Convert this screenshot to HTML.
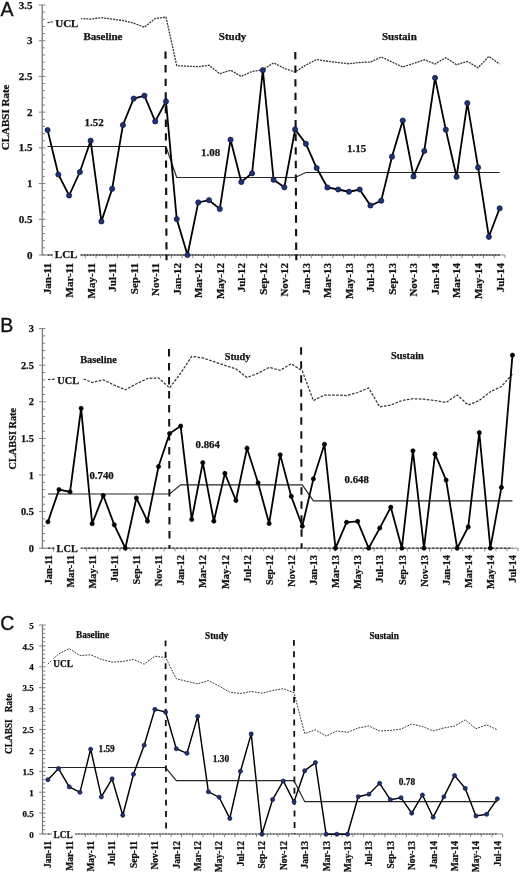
<!DOCTYPE html>
<html><head><meta charset="utf-8"><title>CLABSI control charts</title>
<style>
html,body{margin:0;padding:0;background:#fff;}
body{width:520px;height:872px;overflow:hidden;font-family:"Liberation Serif",serif;}
svg{display:block;will-change:transform;}
</style></head>
<body>
<svg width="520" height="872" viewBox="0 0 520 872">
<rect width="520" height="872" fill="#fff"/>
<text x="0.5" y="15.6" font-family="Liberation Sans" font-size="19.5" fill="#111" stroke="#111" stroke-width="0.35">A</text>
<text transform="translate(8.6,117.4) rotate(-90)" text-anchor="middle" font-family="Liberation Serif" font-weight="bold" stroke="#111" stroke-width="0.25" font-size="11.0" fill="#111">CLABSI Rate</text>
<line x1="42.2" y1="255" x2="505" y2="255" stroke="#8a8a8a" stroke-width="1.1"/>
<path d="M52.96 255v3.2M63.73 255v3.2M74.49 255v3.2M85.25 255v3.2M96.01 255v3.2M106.78 255v3.2M117.54 255v3.2M128.3 255v3.2M139.07 255v3.2M149.83 255v3.2M160.59 255v3.2M171.35 255v3.2M182.12 255v3.2M192.88 255v3.2M203.64 255v3.2M214.4 255v3.2M225.17 255v3.2M235.93 255v3.2M246.69 255v3.2M257.46 255v3.2M268.22 255v3.2M278.98 255v3.2M289.74 255v3.2M300.51 255v3.2M311.27 255v3.2M322.03 255v3.2M332.8 255v3.2M343.56 255v3.2M354.32 255v3.2M365.08 255v3.2M375.85 255v3.2M386.61 255v3.2M397.37 255v3.2M408.13 255v3.2M418.9 255v3.2M429.66 255v3.2M440.42 255v3.2M451.19 255v3.2M461.95 255v3.2M472.71 255v3.2M483.47 255v3.2M494.24 255v3.2M505 255v3.2" stroke="#8a8a8a" stroke-width="1"/>
<line x1="42.2" y1="4.99" x2="42.2" y2="255" stroke="#7a7a7a" stroke-width="1.3"/>
<path d="M38.8 255h6.6M42.2 247.86h2.8M42.2 240.71h2.8M42.2 233.57h2.8M42.2 226.43h2.8M38.8 219.28h6.6M42.2 212.14h2.8M42.2 205h2.8M42.2 197.86h2.8M42.2 190.71h2.8M38.8 183.57h6.6M42.2 176.43h2.8M42.2 169.28h2.8M42.2 162.14h2.8M42.2 155h2.8M38.8 147.85h6.6M42.2 140.71h2.8M42.2 133.57h2.8M42.2 126.43h2.8M42.2 119.28h2.8M38.8 112.14h6.6M42.2 105h2.8M42.2 97.85h2.8M42.2 90.71h2.8M42.2 83.57h2.8M38.8 76.42h6.6M42.2 69.28h2.8M42.2 62.14h2.8M42.2 55h2.8M42.2 47.85h2.8M38.8 40.71h6.6M42.2 33.57h2.8M42.2 26.42h2.8M42.2 19.28h2.8M42.2 12.14h2.8M38.8 4.99h6.6" stroke="#808080" stroke-width="1"/>
<text x="32.6" y="258.63" text-anchor="end" font-family="Liberation Serif" font-weight="bold" stroke="#111" stroke-width="0.25" font-size="11.0" fill="#111">0</text>
<text x="32.6" y="222.91" text-anchor="end" font-family="Liberation Serif" font-weight="bold" stroke="#111" stroke-width="0.25" font-size="11.0" fill="#111">0.5</text>
<text x="32.6" y="187.2" text-anchor="end" font-family="Liberation Serif" font-weight="bold" stroke="#111" stroke-width="0.25" font-size="11.0" fill="#111">1</text>
<text x="32.6" y="151.48" text-anchor="end" font-family="Liberation Serif" font-weight="bold" stroke="#111" stroke-width="0.25" font-size="11.0" fill="#111">1.5</text>
<text x="32.6" y="115.77" text-anchor="end" font-family="Liberation Serif" font-weight="bold" stroke="#111" stroke-width="0.25" font-size="11.0" fill="#111">2</text>
<text x="32.6" y="80.05" text-anchor="end" font-family="Liberation Serif" font-weight="bold" stroke="#111" stroke-width="0.25" font-size="11.0" fill="#111">2.5</text>
<text x="32.6" y="44.34" text-anchor="end" font-family="Liberation Serif" font-weight="bold" stroke="#111" stroke-width="0.25" font-size="11.0" fill="#111">3</text>
<text x="32.6" y="8.62" text-anchor="end" font-family="Liberation Serif" font-weight="bold" stroke="#111" stroke-width="0.25" font-size="11.0" fill="#111">3.5</text>
<text transform="translate(51.48,263) rotate(-90)" text-anchor="end" font-family="Liberation Serif" font-weight="bold" stroke="#111" stroke-width="0.25" font-size="11.0" fill="#111">Jan-11</text>
<text transform="translate(73.01,263) rotate(-90)" text-anchor="end" font-family="Liberation Serif" font-weight="bold" stroke="#111" stroke-width="0.25" font-size="11.0" fill="#111">Mar-11</text>
<text transform="translate(94.53,263) rotate(-90)" text-anchor="end" font-family="Liberation Serif" font-weight="bold" stroke="#111" stroke-width="0.25" font-size="11.0" fill="#111">May-11</text>
<text transform="translate(116.06,263) rotate(-90)" text-anchor="end" font-family="Liberation Serif" font-weight="bold" stroke="#111" stroke-width="0.25" font-size="11.0" fill="#111">Jul-11</text>
<text transform="translate(137.58,263) rotate(-90)" text-anchor="end" font-family="Liberation Serif" font-weight="bold" stroke="#111" stroke-width="0.25" font-size="11.0" fill="#111">Sep-11</text>
<text transform="translate(159.11,263) rotate(-90)" text-anchor="end" font-family="Liberation Serif" font-weight="bold" stroke="#111" stroke-width="0.25" font-size="11.0" fill="#111">Nov-11</text>
<text transform="translate(180.63,263) rotate(-90)" text-anchor="end" font-family="Liberation Serif" font-weight="bold" stroke="#111" stroke-width="0.25" font-size="11.0" fill="#111">Jan-12</text>
<text transform="translate(202.16,263) rotate(-90)" text-anchor="end" font-family="Liberation Serif" font-weight="bold" stroke="#111" stroke-width="0.25" font-size="11.0" fill="#111">Mar-12</text>
<text transform="translate(223.69,263) rotate(-90)" text-anchor="end" font-family="Liberation Serif" font-weight="bold" stroke="#111" stroke-width="0.25" font-size="11.0" fill="#111">May-12</text>
<text transform="translate(245.21,263) rotate(-90)" text-anchor="end" font-family="Liberation Serif" font-weight="bold" stroke="#111" stroke-width="0.25" font-size="11.0" fill="#111">Jul-12</text>
<text transform="translate(266.74,263) rotate(-90)" text-anchor="end" font-family="Liberation Serif" font-weight="bold" stroke="#111" stroke-width="0.25" font-size="11.0" fill="#111">Sep-12</text>
<text transform="translate(288.26,263) rotate(-90)" text-anchor="end" font-family="Liberation Serif" font-weight="bold" stroke="#111" stroke-width="0.25" font-size="11.0" fill="#111">Nov-12</text>
<text transform="translate(309.79,263) rotate(-90)" text-anchor="end" font-family="Liberation Serif" font-weight="bold" stroke="#111" stroke-width="0.25" font-size="11.0" fill="#111">Jan-13</text>
<text transform="translate(331.31,263) rotate(-90)" text-anchor="end" font-family="Liberation Serif" font-weight="bold" stroke="#111" stroke-width="0.25" font-size="11.0" fill="#111">Mar-13</text>
<text transform="translate(352.84,263) rotate(-90)" text-anchor="end" font-family="Liberation Serif" font-weight="bold" stroke="#111" stroke-width="0.25" font-size="11.0" fill="#111">May-13</text>
<text transform="translate(374.37,263) rotate(-90)" text-anchor="end" font-family="Liberation Serif" font-weight="bold" stroke="#111" stroke-width="0.25" font-size="11.0" fill="#111">Jul-13</text>
<text transform="translate(395.89,263) rotate(-90)" text-anchor="end" font-family="Liberation Serif" font-weight="bold" stroke="#111" stroke-width="0.25" font-size="11.0" fill="#111">Sep-13</text>
<text transform="translate(417.42,263) rotate(-90)" text-anchor="end" font-family="Liberation Serif" font-weight="bold" stroke="#111" stroke-width="0.25" font-size="11.0" fill="#111">Nov-13</text>
<text transform="translate(438.94,263) rotate(-90)" text-anchor="end" font-family="Liberation Serif" font-weight="bold" stroke="#111" stroke-width="0.25" font-size="11.0" fill="#111">Jan-14</text>
<text transform="translate(460.47,263) rotate(-90)" text-anchor="end" font-family="Liberation Serif" font-weight="bold" stroke="#111" stroke-width="0.25" font-size="11.0" fill="#111">Mar-14</text>
<text transform="translate(481.99,263) rotate(-90)" text-anchor="end" font-family="Liberation Serif" font-weight="bold" stroke="#111" stroke-width="0.25" font-size="11.0" fill="#111">May-14</text>
<text transform="translate(503.52,263) rotate(-90)" text-anchor="end" font-family="Liberation Serif" font-weight="bold" stroke="#111" stroke-width="0.25" font-size="11.0" fill="#111">Jul-14</text>
<line x1="47.58" y1="255" x2="499.62" y2="255" stroke="#333" stroke-width="1.3" stroke-dasharray="2 1"/>
<polyline points="47.58,22.6 58.34,21 69.11,19.5 79.87,18.5 90.63,19.1 101.4,17.7 112.16,19.1 122.92,20.5 133.68,23.2 144.45,27.2 155.21,18.5 165.97,17.1 176.73,65.6 187.5,66.2 198.26,66.7 209.02,65.3 219.79,73.7 230.55,70.2 241.31,76.4 252.07,71.5 262.84,69.7 273.6,62.9 284.36,68.3 295.13,72.1 305.89,65 316.65,59.5 327.41,61.25 338.18,62.5 348.94,63.75 359.7,62.5 370.47,62 381.23,57 391.99,62 402.75,67 413.52,63.5 424.28,59.7 435.04,64 445.8,57.7 456.57,64.7 467.33,61.4 478.09,67.7 488.86,56.4 499.62,64" fill="none" stroke="#333" stroke-width="1.3" stroke-dasharray="2 1"/>
<polyline points="47.58,146.5 58.34,146.5 69.11,146.5 79.87,146.5 90.63,146.5 101.4,146.5 112.16,146.5 122.92,146.5 133.68,146.5 144.45,146.5 155.21,146.5 165.97,146.5 176.73,177.5 187.5,177.5 198.26,177.5 209.02,177.5 219.79,177.5 230.55,177.5 241.31,177.5 252.07,177.5 262.84,177.5 273.6,177.5 284.36,177.5 295.13,177.5 305.89,172.5 316.65,172.5 327.41,172.5 338.18,172.5 348.94,172.5 359.7,172.5 370.47,172.5 381.23,172.5 391.99,172.5 402.75,172.5 413.52,172.5 424.28,172.5 435.04,172.5 445.8,172.5 456.57,172.5 467.33,172.5 478.09,172.5 488.86,172.5 499.62,172.5" fill="none" stroke="#262626" stroke-width="1.2"/>
<line x1="166.5" y1="254.4" x2="166.5" y2="260.2" stroke="#111" stroke-width="2.1"/>
<line x1="296.3" y1="254.4" x2="296.3" y2="260.2" stroke="#111" stroke-width="2.1"/>
<line x1="165.5" y1="51.5" x2="166.5" y2="255" stroke="#111" stroke-width="2.1" stroke-dasharray="7.3 6.32"/>
<line x1="295.3" y1="51.9" x2="296.2" y2="255" stroke="#111" stroke-width="2.1" stroke-dasharray="7.3 6.32"/>
<rect x="53.2" y="17.35" width="28" height="12.1" fill="#fff"/>
<text x="55.2" y="26.7" font-family="Liberation Serif" font-weight="bold" stroke="#111" stroke-width="0.25" font-size="11.0" fill="#111">UCL</text>
<rect x="52.8" y="248.95" width="27.6" height="12.1" fill="#fff"/>
<text x="54.8" y="258.3" font-family="Liberation Serif" font-weight="bold" stroke="#111" stroke-width="0.25" font-size="11.0" fill="#111">LCL</text>
<polyline points="47.58,130 58.34,174.5 69.11,195.5 79.87,172 90.63,140.71 101.4,221.43 112.16,188.78 122.92,125 133.68,98.57 144.45,95.71 155.21,121.43 165.97,101.43 176.73,219.07 187.5,255 198.26,202.43 209.02,200.21 219.79,208.93 230.55,139.71 241.31,182 252.07,173.28 262.84,70.21 273.6,179.78 284.36,187.28 295.13,129.43 305.89,143.78 316.65,168 327.41,187.5 338.18,189.5 348.94,191.71 359.7,189.5 370.47,205.5 381.23,200.71 391.99,156.71 402.75,120.5 413.52,176.43 424.28,151 435.04,77.85 445.8,129.64 456.57,176.71 467.33,103.07 478.09,167.43 488.86,236.79 499.62,208.28" fill="none" stroke="#000" stroke-width="1.8" stroke-linejoin="miter"/>
<circle cx="47.58" cy="130" r="2.6" fill="#1f3273" stroke="#0b1545" stroke-width="0.7"/>
<circle cx="58.34" cy="174.5" r="2.6" fill="#1f3273" stroke="#0b1545" stroke-width="0.7"/>
<circle cx="69.11" cy="195.5" r="2.6" fill="#1f3273" stroke="#0b1545" stroke-width="0.7"/>
<circle cx="79.87" cy="172" r="2.6" fill="#1f3273" stroke="#0b1545" stroke-width="0.7"/>
<circle cx="90.63" cy="140.71" r="2.6" fill="#1f3273" stroke="#0b1545" stroke-width="0.7"/>
<circle cx="101.4" cy="221.43" r="2.6" fill="#1f3273" stroke="#0b1545" stroke-width="0.7"/>
<circle cx="112.16" cy="188.78" r="2.6" fill="#1f3273" stroke="#0b1545" stroke-width="0.7"/>
<circle cx="122.92" cy="125" r="2.6" fill="#1f3273" stroke="#0b1545" stroke-width="0.7"/>
<circle cx="133.68" cy="98.57" r="2.6" fill="#1f3273" stroke="#0b1545" stroke-width="0.7"/>
<circle cx="144.45" cy="95.71" r="2.6" fill="#1f3273" stroke="#0b1545" stroke-width="0.7"/>
<circle cx="155.21" cy="121.43" r="2.6" fill="#1f3273" stroke="#0b1545" stroke-width="0.7"/>
<circle cx="165.97" cy="101.43" r="2.6" fill="#1f3273" stroke="#0b1545" stroke-width="0.7"/>
<circle cx="176.73" cy="219.07" r="2.6" fill="#1f3273" stroke="#0b1545" stroke-width="0.7"/>
<circle cx="187.5" cy="255" r="2.6" fill="#1f3273" stroke="#0b1545" stroke-width="0.7"/>
<circle cx="198.26" cy="202.43" r="2.6" fill="#1f3273" stroke="#0b1545" stroke-width="0.7"/>
<circle cx="209.02" cy="200.21" r="2.6" fill="#1f3273" stroke="#0b1545" stroke-width="0.7"/>
<circle cx="219.79" cy="208.93" r="2.6" fill="#1f3273" stroke="#0b1545" stroke-width="0.7"/>
<circle cx="230.55" cy="139.71" r="2.6" fill="#1f3273" stroke="#0b1545" stroke-width="0.7"/>
<circle cx="241.31" cy="182" r="2.6" fill="#1f3273" stroke="#0b1545" stroke-width="0.7"/>
<circle cx="252.07" cy="173.28" r="2.6" fill="#1f3273" stroke="#0b1545" stroke-width="0.7"/>
<circle cx="262.84" cy="70.21" r="2.6" fill="#1f3273" stroke="#0b1545" stroke-width="0.7"/>
<circle cx="273.6" cy="179.78" r="2.6" fill="#1f3273" stroke="#0b1545" stroke-width="0.7"/>
<circle cx="284.36" cy="187.28" r="2.6" fill="#1f3273" stroke="#0b1545" stroke-width="0.7"/>
<circle cx="295.13" cy="129.43" r="2.6" fill="#1f3273" stroke="#0b1545" stroke-width="0.7"/>
<circle cx="305.89" cy="143.78" r="2.6" fill="#1f3273" stroke="#0b1545" stroke-width="0.7"/>
<circle cx="316.65" cy="168" r="2.6" fill="#1f3273" stroke="#0b1545" stroke-width="0.7"/>
<circle cx="327.41" cy="187.5" r="2.6" fill="#1f3273" stroke="#0b1545" stroke-width="0.7"/>
<circle cx="338.18" cy="189.5" r="2.6" fill="#1f3273" stroke="#0b1545" stroke-width="0.7"/>
<circle cx="348.94" cy="191.71" r="2.6" fill="#1f3273" stroke="#0b1545" stroke-width="0.7"/>
<circle cx="359.7" cy="189.5" r="2.6" fill="#1f3273" stroke="#0b1545" stroke-width="0.7"/>
<circle cx="370.47" cy="205.5" r="2.6" fill="#1f3273" stroke="#0b1545" stroke-width="0.7"/>
<circle cx="381.23" cy="200.71" r="2.6" fill="#1f3273" stroke="#0b1545" stroke-width="0.7"/>
<circle cx="391.99" cy="156.71" r="2.6" fill="#1f3273" stroke="#0b1545" stroke-width="0.7"/>
<circle cx="402.75" cy="120.5" r="2.6" fill="#1f3273" stroke="#0b1545" stroke-width="0.7"/>
<circle cx="413.52" cy="176.43" r="2.6" fill="#1f3273" stroke="#0b1545" stroke-width="0.7"/>
<circle cx="424.28" cy="151" r="2.6" fill="#1f3273" stroke="#0b1545" stroke-width="0.7"/>
<circle cx="435.04" cy="77.85" r="2.6" fill="#1f3273" stroke="#0b1545" stroke-width="0.7"/>
<circle cx="445.8" cy="129.64" r="2.6" fill="#1f3273" stroke="#0b1545" stroke-width="0.7"/>
<circle cx="456.57" cy="176.71" r="2.6" fill="#1f3273" stroke="#0b1545" stroke-width="0.7"/>
<circle cx="467.33" cy="103.07" r="2.6" fill="#1f3273" stroke="#0b1545" stroke-width="0.7"/>
<circle cx="478.09" cy="167.43" r="2.6" fill="#1f3273" stroke="#0b1545" stroke-width="0.7"/>
<circle cx="488.86" cy="236.79" r="2.6" fill="#1f3273" stroke="#0b1545" stroke-width="0.7"/>
<circle cx="499.62" cy="208.28" r="2.6" fill="#1f3273" stroke="#0b1545" stroke-width="0.7"/>
<text x="83.4" y="40" font-family="Liberation Serif" font-weight="bold" stroke="#111" stroke-width="0.25" font-size="11.0" fill="#111">Baseline</text>
<text x="218.8" y="40" font-family="Liberation Serif" font-weight="bold" stroke="#111" stroke-width="0.25" font-size="11.0" fill="#111">Study</text>
<text x="381.9" y="40" font-family="Liberation Serif" font-weight="bold" stroke="#111" stroke-width="0.25" font-size="11.0" fill="#111">Sustain</text>
<text x="84.6" y="126.4" font-family="Liberation Serif" font-weight="bold" stroke="#111" stroke-width="0.25" font-size="11.0" fill="#111">1.52</text>
<text x="201.1" y="155.8" font-family="Liberation Serif" font-weight="bold" stroke="#111" stroke-width="0.25" font-size="11.0" fill="#111">1.08</text>
<text x="347.1" y="152.3" font-family="Liberation Serif" font-weight="bold" stroke="#111" stroke-width="0.25" font-size="11.0" fill="#111">1.15</text>
<text x="0.2" y="331.9" font-family="Liberation Sans" font-size="19.5" fill="#111" stroke="#111" stroke-width="0.35">B</text>
<text transform="translate(15.5,438.7) rotate(-90)" text-anchor="middle" font-family="Liberation Serif" font-weight="bold" stroke="#111" stroke-width="0.25" font-size="10.3" fill="#111">CLABSI Rate</text>
<line x1="42.4" y1="548.2" x2="518" y2="548.2" stroke="#8a8a8a" stroke-width="1.1"/>
<path d="M53.46 548.2v3.2M64.52 548.2v3.2M75.58 548.2v3.2M86.64 548.2v3.2M97.7 548.2v3.2M108.76 548.2v3.2M119.82 548.2v3.2M130.88 548.2v3.2M141.94 548.2v3.2M153 548.2v3.2M164.07 548.2v3.2M175.13 548.2v3.2M186.19 548.2v3.2M197.25 548.2v3.2M208.31 548.2v3.2M219.37 548.2v3.2M230.43 548.2v3.2M241.49 548.2v3.2M252.55 548.2v3.2M263.61 548.2v3.2M274.67 548.2v3.2M285.73 548.2v3.2M296.79 548.2v3.2M307.85 548.2v3.2M318.91 548.2v3.2M329.97 548.2v3.2M341.03 548.2v3.2M352.09 548.2v3.2M363.15 548.2v3.2M374.21 548.2v3.2M385.27 548.2v3.2M396.33 548.2v3.2M407.4 548.2v3.2M418.46 548.2v3.2M429.52 548.2v3.2M440.58 548.2v3.2M451.64 548.2v3.2M462.7 548.2v3.2M473.76 548.2v3.2M484.82 548.2v3.2M495.88 548.2v3.2M506.94 548.2v3.2M518 548.2v3.2" stroke="#8a8a8a" stroke-width="1"/>
<line x1="42.4" y1="328.6" x2="42.4" y2="548.2" stroke="#7a7a7a" stroke-width="1.3"/>
<path d="M39 548.2h6.6M42.4 540.88h2.8M42.4 533.56h2.8M42.4 526.24h2.8M42.4 518.92h2.8M39 511.6h6.6M42.4 504.28h2.8M42.4 496.96h2.8M42.4 489.64h2.8M42.4 482.32h2.8M39 475h6.6M42.4 467.68h2.8M42.4 460.36h2.8M42.4 453.04h2.8M42.4 445.72h2.8M39 438.4h6.6M42.4 431.08h2.8M42.4 423.76h2.8M42.4 416.44h2.8M42.4 409.12h2.8M39 401.8h6.6M42.4 394.48h2.8M42.4 387.16h2.8M42.4 379.84h2.8M42.4 372.52h2.8M39 365.2h6.6M42.4 357.88h2.8M42.4 350.56h2.8M42.4 343.24h2.8M42.4 335.92h2.8M39 328.6h6.6" stroke="#808080" stroke-width="1"/>
<text x="33.8" y="551.8" text-anchor="end" font-family="Liberation Serif" font-weight="bold" stroke="#111" stroke-width="0.25" font-size="10.3" fill="#111">0</text>
<text x="33.8" y="515.2" text-anchor="end" font-family="Liberation Serif" font-weight="bold" stroke="#111" stroke-width="0.25" font-size="10.3" fill="#111">0.5</text>
<text x="33.8" y="478.6" text-anchor="end" font-family="Liberation Serif" font-weight="bold" stroke="#111" stroke-width="0.25" font-size="10.3" fill="#111">1</text>
<text x="33.8" y="442" text-anchor="end" font-family="Liberation Serif" font-weight="bold" stroke="#111" stroke-width="0.25" font-size="10.3" fill="#111">1.5</text>
<text x="33.8" y="405.4" text-anchor="end" font-family="Liberation Serif" font-weight="bold" stroke="#111" stroke-width="0.25" font-size="10.3" fill="#111">2</text>
<text x="33.8" y="368.8" text-anchor="end" font-family="Liberation Serif" font-weight="bold" stroke="#111" stroke-width="0.25" font-size="10.3" fill="#111">2.5</text>
<text x="33.8" y="332.2" text-anchor="end" font-family="Liberation Serif" font-weight="bold" stroke="#111" stroke-width="0.25" font-size="10.3" fill="#111">3</text>
<text transform="translate(51.63,555) rotate(-90)" text-anchor="end" font-family="Liberation Serif" font-weight="bold" stroke="#111" stroke-width="0.25" font-size="10.4" fill="#111">Jan-11</text>
<text transform="translate(73.75,555) rotate(-90)" text-anchor="end" font-family="Liberation Serif" font-weight="bold" stroke="#111" stroke-width="0.25" font-size="10.4" fill="#111">Mar-11</text>
<text transform="translate(95.87,555) rotate(-90)" text-anchor="end" font-family="Liberation Serif" font-weight="bold" stroke="#111" stroke-width="0.25" font-size="10.4" fill="#111">May-11</text>
<text transform="translate(117.99,555) rotate(-90)" text-anchor="end" font-family="Liberation Serif" font-weight="bold" stroke="#111" stroke-width="0.25" font-size="10.4" fill="#111">Jul-11</text>
<text transform="translate(140.11,555) rotate(-90)" text-anchor="end" font-family="Liberation Serif" font-weight="bold" stroke="#111" stroke-width="0.25" font-size="10.4" fill="#111">Sep-11</text>
<text transform="translate(162.23,555) rotate(-90)" text-anchor="end" font-family="Liberation Serif" font-weight="bold" stroke="#111" stroke-width="0.25" font-size="10.4" fill="#111">Nov-11</text>
<text transform="translate(184.36,555) rotate(-90)" text-anchor="end" font-family="Liberation Serif" font-weight="bold" stroke="#111" stroke-width="0.25" font-size="10.4" fill="#111">Jan-12</text>
<text transform="translate(206.48,555) rotate(-90)" text-anchor="end" font-family="Liberation Serif" font-weight="bold" stroke="#111" stroke-width="0.25" font-size="10.4" fill="#111">Mar-12</text>
<text transform="translate(228.6,555) rotate(-90)" text-anchor="end" font-family="Liberation Serif" font-weight="bold" stroke="#111" stroke-width="0.25" font-size="10.4" fill="#111">May-12</text>
<text transform="translate(250.72,555) rotate(-90)" text-anchor="end" font-family="Liberation Serif" font-weight="bold" stroke="#111" stroke-width="0.25" font-size="10.4" fill="#111">Jul-12</text>
<text transform="translate(272.84,555) rotate(-90)" text-anchor="end" font-family="Liberation Serif" font-weight="bold" stroke="#111" stroke-width="0.25" font-size="10.4" fill="#111">Sep-12</text>
<text transform="translate(294.96,555) rotate(-90)" text-anchor="end" font-family="Liberation Serif" font-weight="bold" stroke="#111" stroke-width="0.25" font-size="10.4" fill="#111">Nov-12</text>
<text transform="translate(317.08,555) rotate(-90)" text-anchor="end" font-family="Liberation Serif" font-weight="bold" stroke="#111" stroke-width="0.25" font-size="10.4" fill="#111">Jan-13</text>
<text transform="translate(339.2,555) rotate(-90)" text-anchor="end" font-family="Liberation Serif" font-weight="bold" stroke="#111" stroke-width="0.25" font-size="10.4" fill="#111">Mar-13</text>
<text transform="translate(361.32,555) rotate(-90)" text-anchor="end" font-family="Liberation Serif" font-weight="bold" stroke="#111" stroke-width="0.25" font-size="10.4" fill="#111">May-13</text>
<text transform="translate(383.44,555) rotate(-90)" text-anchor="end" font-family="Liberation Serif" font-weight="bold" stroke="#111" stroke-width="0.25" font-size="10.4" fill="#111">Jul-13</text>
<text transform="translate(405.57,555) rotate(-90)" text-anchor="end" font-family="Liberation Serif" font-weight="bold" stroke="#111" stroke-width="0.25" font-size="10.4" fill="#111">Sep-13</text>
<text transform="translate(427.69,555) rotate(-90)" text-anchor="end" font-family="Liberation Serif" font-weight="bold" stroke="#111" stroke-width="0.25" font-size="10.4" fill="#111">Nov-13</text>
<text transform="translate(449.81,555) rotate(-90)" text-anchor="end" font-family="Liberation Serif" font-weight="bold" stroke="#111" stroke-width="0.25" font-size="10.4" fill="#111">Jan-14</text>
<text transform="translate(471.93,555) rotate(-90)" text-anchor="end" font-family="Liberation Serif" font-weight="bold" stroke="#111" stroke-width="0.25" font-size="10.4" fill="#111">Mar-14</text>
<text transform="translate(494.05,555) rotate(-90)" text-anchor="end" font-family="Liberation Serif" font-weight="bold" stroke="#111" stroke-width="0.25" font-size="10.4" fill="#111">May-14</text>
<text transform="translate(516.17,555) rotate(-90)" text-anchor="end" font-family="Liberation Serif" font-weight="bold" stroke="#111" stroke-width="0.25" font-size="10.4" fill="#111">Jul-14</text>
<line x1="47.93" y1="548.2" x2="512.47" y2="548.2" stroke="#333" stroke-width="1.25" stroke-dasharray="2.6 1.4"/>
<polyline points="47.93,379.5 58.99,379 70.05,378.5 81.11,377.9 92.17,382.5 103.23,379.8 114.29,385.2 125.35,389.8 136.41,383.8 147.47,378.5 158.53,377.9 169.6,387.9 180.66,373.2 191.72,356.4 202.78,357.9 213.84,361.6 224.9,365.4 235.96,368.8 247.02,377.5 258.08,373.2 269.14,367.4 280.2,370.3 291.26,363.7 302.32,371 313.38,400.6 324.44,395 335.5,395 346.56,395.5 357.62,392.5 368.68,388 379.74,406.9 390.8,405.1 401.87,400.6 412.93,398.7 423.99,399.2 435.05,400.5 446.11,402.5 457.17,395 468.23,405 479.29,400.5 490.35,391.7 501.41,386.6 512.47,374" fill="none" stroke="#333" stroke-width="1.25" stroke-dasharray="2.6 1.4"/>
<polyline points="47.93,494 58.99,494 70.05,494 81.11,494 92.17,494 103.23,494 114.29,494 125.35,494 136.41,494 147.47,494 158.53,494 169.6,494 180.66,484.9 191.72,484.9 202.78,484.9 213.84,484.9 224.9,484.9 235.96,484.9 247.02,484.9 258.08,484.9 269.14,484.9 280.2,484.9 291.26,484.9 302.32,484.9 313.38,500.8 324.44,500.8 335.5,500.8 346.56,500.8 357.62,500.8 368.68,500.8 379.74,500.8 390.8,500.8 401.87,500.8 412.93,500.8 423.99,500.8 435.05,500.8 446.11,500.8 457.17,500.8 468.23,500.8 479.29,500.8 490.35,500.8 501.41,500.8 512.47,500.8" fill="none" stroke="#262626" stroke-width="1.2"/>
<line x1="169" y1="348.9" x2="169.5" y2="548.2" stroke="#111" stroke-width="2.0" stroke-dasharray="7.5 6.5"/>
<line x1="301.1" y1="347.3" x2="301.6" y2="548.2" stroke="#111" stroke-width="2.0" stroke-dasharray="7.5 6.5"/>
<rect x="55.3" y="374.85" width="27.6" height="11.33" fill="#fff"/>
<text x="57.3" y="383.6" font-family="Liberation Serif" font-weight="bold" stroke="#111" stroke-width="0.25" font-size="10.3" fill="#111">UCL</text>
<rect x="54.6" y="543.64" width="26.1" height="11.33" fill="#fff"/>
<text x="56.6" y="552.4" font-family="Liberation Serif" font-weight="bold" stroke="#111" stroke-width="0.25" font-size="10.3" fill="#111">LCL</text>
<polyline points="47.93,521.85 58.99,489.64 70.05,491.84 81.11,408.39 92.17,523.68 103.23,495.5 114.29,524.78 125.35,548.2 136.41,498.06 147.47,521.12 158.53,466.58 169.6,433.5 180.66,426.1 191.72,519.51 202.78,462.7 213.84,521.19 224.9,473.39 235.96,500.47 247.02,448.28 258.08,482.91 269.14,523.53 280.2,454.87 291.26,496.37 302.32,526.24 313.38,478.88 324.44,444.33 335.5,548.2 346.56,522.29 357.62,521.34 368.68,548.2 379.74,528.07 390.8,507.21 401.87,548.2 412.93,450.84 423.99,548.2 435.05,454.14 446.11,480.12 457.17,548.2 468.23,526.97 479.29,432.69 490.35,548.2 501.41,487.44 512.47,355.17" fill="none" stroke="#000" stroke-width="1.8" stroke-linejoin="miter"/>
<circle cx="47.93" cy="521.85" r="2.1" fill="#000" stroke="#000" stroke-width="0.7"/>
<circle cx="58.99" cy="489.64" r="2.1" fill="#000" stroke="#000" stroke-width="0.7"/>
<circle cx="70.05" cy="491.84" r="2.1" fill="#000" stroke="#000" stroke-width="0.7"/>
<circle cx="81.11" cy="408.39" r="2.1" fill="#000" stroke="#000" stroke-width="0.7"/>
<circle cx="92.17" cy="523.68" r="2.1" fill="#000" stroke="#000" stroke-width="0.7"/>
<circle cx="103.23" cy="495.5" r="2.1" fill="#000" stroke="#000" stroke-width="0.7"/>
<circle cx="114.29" cy="524.78" r="2.1" fill="#000" stroke="#000" stroke-width="0.7"/>
<circle cx="125.35" cy="548.2" r="2.1" fill="#000" stroke="#000" stroke-width="0.7"/>
<circle cx="136.41" cy="498.06" r="2.1" fill="#000" stroke="#000" stroke-width="0.7"/>
<circle cx="147.47" cy="521.12" r="2.1" fill="#000" stroke="#000" stroke-width="0.7"/>
<circle cx="158.53" cy="466.58" r="2.1" fill="#000" stroke="#000" stroke-width="0.7"/>
<circle cx="169.6" cy="433.5" r="2.1" fill="#000" stroke="#000" stroke-width="0.7"/>
<circle cx="180.66" cy="426.1" r="2.1" fill="#000" stroke="#000" stroke-width="0.7"/>
<circle cx="191.72" cy="519.51" r="2.1" fill="#000" stroke="#000" stroke-width="0.7"/>
<circle cx="202.78" cy="462.7" r="2.1" fill="#000" stroke="#000" stroke-width="0.7"/>
<circle cx="213.84" cy="521.19" r="2.1" fill="#000" stroke="#000" stroke-width="0.7"/>
<circle cx="224.9" cy="473.39" r="2.1" fill="#000" stroke="#000" stroke-width="0.7"/>
<circle cx="235.96" cy="500.47" r="2.1" fill="#000" stroke="#000" stroke-width="0.7"/>
<circle cx="247.02" cy="448.28" r="2.1" fill="#000" stroke="#000" stroke-width="0.7"/>
<circle cx="258.08" cy="482.91" r="2.1" fill="#000" stroke="#000" stroke-width="0.7"/>
<circle cx="269.14" cy="523.53" r="2.1" fill="#000" stroke="#000" stroke-width="0.7"/>
<circle cx="280.2" cy="454.87" r="2.1" fill="#000" stroke="#000" stroke-width="0.7"/>
<circle cx="291.26" cy="496.37" r="2.1" fill="#000" stroke="#000" stroke-width="0.7"/>
<circle cx="302.32" cy="526.24" r="2.1" fill="#000" stroke="#000" stroke-width="0.7"/>
<circle cx="313.38" cy="478.88" r="2.1" fill="#000" stroke="#000" stroke-width="0.7"/>
<circle cx="324.44" cy="444.33" r="2.1" fill="#000" stroke="#000" stroke-width="0.7"/>
<circle cx="335.5" cy="548.2" r="2.1" fill="#000" stroke="#000" stroke-width="0.7"/>
<circle cx="346.56" cy="522.29" r="2.1" fill="#000" stroke="#000" stroke-width="0.7"/>
<circle cx="357.62" cy="521.34" r="2.1" fill="#000" stroke="#000" stroke-width="0.7"/>
<circle cx="368.68" cy="548.2" r="2.1" fill="#000" stroke="#000" stroke-width="0.7"/>
<circle cx="379.74" cy="528.07" r="2.1" fill="#000" stroke="#000" stroke-width="0.7"/>
<circle cx="390.8" cy="507.21" r="2.1" fill="#000" stroke="#000" stroke-width="0.7"/>
<circle cx="401.87" cy="548.2" r="2.1" fill="#000" stroke="#000" stroke-width="0.7"/>
<circle cx="412.93" cy="450.84" r="2.1" fill="#000" stroke="#000" stroke-width="0.7"/>
<circle cx="423.99" cy="548.2" r="2.1" fill="#000" stroke="#000" stroke-width="0.7"/>
<circle cx="435.05" cy="454.14" r="2.1" fill="#000" stroke="#000" stroke-width="0.7"/>
<circle cx="446.11" cy="480.12" r="2.1" fill="#000" stroke="#000" stroke-width="0.7"/>
<circle cx="457.17" cy="548.2" r="2.1" fill="#000" stroke="#000" stroke-width="0.7"/>
<circle cx="468.23" cy="526.97" r="2.1" fill="#000" stroke="#000" stroke-width="0.7"/>
<circle cx="479.29" cy="432.69" r="2.1" fill="#000" stroke="#000" stroke-width="0.7"/>
<circle cx="490.35" cy="548.2" r="2.1" fill="#000" stroke="#000" stroke-width="0.7"/>
<circle cx="501.41" cy="487.44" r="2.1" fill="#000" stroke="#000" stroke-width="0.7"/>
<circle cx="512.47" cy="355.17" r="2.1" fill="#000" stroke="#000" stroke-width="0.7"/>
<text x="80.2" y="363.1" font-family="Liberation Serif" font-weight="bold" stroke="#111" stroke-width="0.25" font-size="10.3" fill="#111">Baseline</text>
<text x="224.7" y="360.1" font-family="Liberation Serif" font-weight="bold" stroke="#111" stroke-width="0.25" font-size="10.3" fill="#111">Study</text>
<text x="391.1" y="359" font-family="Liberation Serif" font-weight="bold" stroke="#111" stroke-width="0.25" font-size="10.3" fill="#111">Sustain</text>
<text x="89.4" y="478.7" font-family="Liberation Serif" font-weight="bold" stroke="#111" stroke-width="0.25" font-size="10.8" fill="#111">0.740</text>
<text x="195.6" y="447.6" font-family="Liberation Serif" font-weight="bold" stroke="#111" stroke-width="0.25" font-size="10.8" fill="#111">0.864</text>
<text x="344.6" y="483.1" font-family="Liberation Serif" font-weight="bold" stroke="#111" stroke-width="0.25" font-size="10.8" fill="#111">0.648</text>
<text x="0.3" y="630.2" font-family="Liberation Sans" font-size="19.5" fill="#111" stroke="#111" stroke-width="0.35">C</text>
<text transform="translate(11.5,723.8) rotate(-90)" text-anchor="middle" font-family="Liberation Serif" font-weight="bold" stroke="#111" stroke-width="0.25" font-size="9.3" fill="#111">CLABSI   Rate</text>
<line x1="42.5" y1="834" x2="502.7" y2="834" stroke="#8a8a8a" stroke-width="1.1"/>
<path d="M53.2 834v3.2M63.9 834v3.2M74.61 834v3.2M85.31 834v3.2M96.01 834v3.2M106.71 834v3.2M117.42 834v3.2M128.12 834v3.2M138.82 834v3.2M149.52 834v3.2M160.23 834v3.2M170.93 834v3.2M181.63 834v3.2M192.33 834v3.2M203.03 834v3.2M213.74 834v3.2M224.44 834v3.2M235.14 834v3.2M245.84 834v3.2M256.55 834v3.2M267.25 834v3.2M277.95 834v3.2M288.65 834v3.2M299.36 834v3.2M310.06 834v3.2M320.76 834v3.2M331.46 834v3.2M342.17 834v3.2M352.87 834v3.2M363.57 834v3.2M374.27 834v3.2M384.97 834v3.2M395.68 834v3.2M406.38 834v3.2M417.08 834v3.2M427.78 834v3.2M438.49 834v3.2M449.19 834v3.2M459.89 834v3.2M470.59 834v3.2M481.3 834v3.2M492 834v3.2M502.7 834v3.2" stroke="#8a8a8a" stroke-width="1"/>
<line x1="42.5" y1="625" x2="42.5" y2="834" stroke="#7a7a7a" stroke-width="1.3"/>
<path d="M39.1 834h6.6M42.5 829.82h2.8M42.5 825.64h2.8M42.5 821.46h2.8M42.5 817.28h2.8M39.1 813.1h6.6M42.5 808.92h2.8M42.5 804.74h2.8M42.5 800.56h2.8M42.5 796.38h2.8M39.1 792.2h6.6M42.5 788.02h2.8M42.5 783.84h2.8M42.5 779.66h2.8M42.5 775.48h2.8M39.1 771.3h6.6M42.5 767.12h2.8M42.5 762.94h2.8M42.5 758.76h2.8M42.5 754.58h2.8M39.1 750.4h6.6M42.5 746.22h2.8M42.5 742.04h2.8M42.5 737.86h2.8M42.5 733.68h2.8M39.1 729.5h6.6M42.5 725.32h2.8M42.5 721.14h2.8M42.5 716.96h2.8M42.5 712.78h2.8M39.1 708.6h6.6M42.5 704.42h2.8M42.5 700.24h2.8M42.5 696.06h2.8M42.5 691.88h2.8M39.1 687.7h6.6M42.5 683.52h2.8M42.5 679.34h2.8M42.5 675.16h2.8M42.5 670.98h2.8M39.1 666.8h6.6M42.5 662.62h2.8M42.5 658.44h2.8M42.5 654.26h2.8M42.5 650.08h2.8M39.1 645.9h6.6M42.5 641.72h2.8M42.5 637.54h2.8M42.5 633.36h2.8M42.5 629.18h2.8M39.1 625h6.6" stroke="#808080" stroke-width="1"/>
<text x="33.8" y="837.67" text-anchor="end" font-family="Liberation Serif" font-weight="bold" stroke="#111" stroke-width="0.25" font-size="9.0" fill="#111">0</text>
<text x="33.8" y="816.77" text-anchor="end" font-family="Liberation Serif" font-weight="bold" stroke="#111" stroke-width="0.25" font-size="9.0" fill="#111">0.5</text>
<text x="33.8" y="795.87" text-anchor="end" font-family="Liberation Serif" font-weight="bold" stroke="#111" stroke-width="0.25" font-size="9.0" fill="#111">1</text>
<text x="33.8" y="774.97" text-anchor="end" font-family="Liberation Serif" font-weight="bold" stroke="#111" stroke-width="0.25" font-size="9.0" fill="#111">1.5</text>
<text x="33.8" y="754.07" text-anchor="end" font-family="Liberation Serif" font-weight="bold" stroke="#111" stroke-width="0.25" font-size="9.0" fill="#111">2</text>
<text x="33.8" y="733.17" text-anchor="end" font-family="Liberation Serif" font-weight="bold" stroke="#111" stroke-width="0.25" font-size="9.0" fill="#111">2.5</text>
<text x="33.8" y="712.27" text-anchor="end" font-family="Liberation Serif" font-weight="bold" stroke="#111" stroke-width="0.25" font-size="9.0" fill="#111">3</text>
<text x="33.8" y="691.37" text-anchor="end" font-family="Liberation Serif" font-weight="bold" stroke="#111" stroke-width="0.25" font-size="9.0" fill="#111">3.5</text>
<text x="33.8" y="670.47" text-anchor="end" font-family="Liberation Serif" font-weight="bold" stroke="#111" stroke-width="0.25" font-size="9.0" fill="#111">4</text>
<text x="33.8" y="649.57" text-anchor="end" font-family="Liberation Serif" font-weight="bold" stroke="#111" stroke-width="0.25" font-size="9.0" fill="#111">4.5</text>
<text x="33.8" y="628.67" text-anchor="end" font-family="Liberation Serif" font-weight="bold" stroke="#111" stroke-width="0.25" font-size="9.0" fill="#111">5</text>
<text transform="translate(51.25,841) rotate(-90)" text-anchor="end" font-family="Liberation Serif" font-weight="bold" stroke="#111" stroke-width="0.25" font-size="9.5" fill="#111">Jan-11</text>
<text transform="translate(72.66,841) rotate(-90)" text-anchor="end" font-family="Liberation Serif" font-weight="bold" stroke="#111" stroke-width="0.25" font-size="9.5" fill="#111">Mar-11</text>
<text transform="translate(94.06,841) rotate(-90)" text-anchor="end" font-family="Liberation Serif" font-weight="bold" stroke="#111" stroke-width="0.25" font-size="9.5" fill="#111">May-11</text>
<text transform="translate(115.47,841) rotate(-90)" text-anchor="end" font-family="Liberation Serif" font-weight="bold" stroke="#111" stroke-width="0.25" font-size="9.5" fill="#111">Jul-11</text>
<text transform="translate(136.87,841) rotate(-90)" text-anchor="end" font-family="Liberation Serif" font-weight="bold" stroke="#111" stroke-width="0.25" font-size="9.5" fill="#111">Sep-11</text>
<text transform="translate(158.27,841) rotate(-90)" text-anchor="end" font-family="Liberation Serif" font-weight="bold" stroke="#111" stroke-width="0.25" font-size="9.5" fill="#111">Nov-11</text>
<text transform="translate(179.68,841) rotate(-90)" text-anchor="end" font-family="Liberation Serif" font-weight="bold" stroke="#111" stroke-width="0.25" font-size="9.5" fill="#111">Jan-12</text>
<text transform="translate(201.08,841) rotate(-90)" text-anchor="end" font-family="Liberation Serif" font-weight="bold" stroke="#111" stroke-width="0.25" font-size="9.5" fill="#111">Mar-12</text>
<text transform="translate(222.49,841) rotate(-90)" text-anchor="end" font-family="Liberation Serif" font-weight="bold" stroke="#111" stroke-width="0.25" font-size="9.5" fill="#111">May-12</text>
<text transform="translate(243.89,841) rotate(-90)" text-anchor="end" font-family="Liberation Serif" font-weight="bold" stroke="#111" stroke-width="0.25" font-size="9.5" fill="#111">Jul-12</text>
<text transform="translate(265.3,841) rotate(-90)" text-anchor="end" font-family="Liberation Serif" font-weight="bold" stroke="#111" stroke-width="0.25" font-size="9.5" fill="#111">Sep-12</text>
<text transform="translate(286.7,841) rotate(-90)" text-anchor="end" font-family="Liberation Serif" font-weight="bold" stroke="#111" stroke-width="0.25" font-size="9.5" fill="#111">Nov-12</text>
<text transform="translate(308.11,841) rotate(-90)" text-anchor="end" font-family="Liberation Serif" font-weight="bold" stroke="#111" stroke-width="0.25" font-size="9.5" fill="#111">Jan-13</text>
<text transform="translate(329.51,841) rotate(-90)" text-anchor="end" font-family="Liberation Serif" font-weight="bold" stroke="#111" stroke-width="0.25" font-size="9.5" fill="#111">Mar-13</text>
<text transform="translate(350.92,841) rotate(-90)" text-anchor="end" font-family="Liberation Serif" font-weight="bold" stroke="#111" stroke-width="0.25" font-size="9.5" fill="#111">May-13</text>
<text transform="translate(372.32,841) rotate(-90)" text-anchor="end" font-family="Liberation Serif" font-weight="bold" stroke="#111" stroke-width="0.25" font-size="9.5" fill="#111">Jul-13</text>
<text transform="translate(393.73,841) rotate(-90)" text-anchor="end" font-family="Liberation Serif" font-weight="bold" stroke="#111" stroke-width="0.25" font-size="9.5" fill="#111">Sep-13</text>
<text transform="translate(415.13,841) rotate(-90)" text-anchor="end" font-family="Liberation Serif" font-weight="bold" stroke="#111" stroke-width="0.25" font-size="9.5" fill="#111">Nov-13</text>
<text transform="translate(436.53,841) rotate(-90)" text-anchor="end" font-family="Liberation Serif" font-weight="bold" stroke="#111" stroke-width="0.25" font-size="9.5" fill="#111">Jan-14</text>
<text transform="translate(457.94,841) rotate(-90)" text-anchor="end" font-family="Liberation Serif" font-weight="bold" stroke="#111" stroke-width="0.25" font-size="9.5" fill="#111">Mar-14</text>
<text transform="translate(479.34,841) rotate(-90)" text-anchor="end" font-family="Liberation Serif" font-weight="bold" stroke="#111" stroke-width="0.25" font-size="9.5" fill="#111">May-14</text>
<text transform="translate(500.75,841) rotate(-90)" text-anchor="end" font-family="Liberation Serif" font-weight="bold" stroke="#111" stroke-width="0.25" font-size="9.5" fill="#111">Jul-14</text>
<line x1="47.85" y1="834" x2="497.35" y2="834" stroke="#333" stroke-width="1.0" stroke-dasharray="1.8 1.2"/>
<polyline points="47.85,664 58.55,654 69.26,648.6 79.96,655.6 90.66,654.8 101.36,659.4 112.07,662.1 122.77,661.5 133.47,659.4 144.17,664.2 154.87,656.2 165.58,657.5 176.28,678.7 186.98,681.4 197.68,683.8 208.39,680.6 219.09,686 229.79,692.2 240.49,693.5 251.2,691.4 261.9,693.2 272.6,690.5 283.3,688.7 294,692.7 304.71,733.6 315.41,729.8 326.11,736.1 336.81,731 347.52,732.3 358.22,728 368.92,726 379.62,731 390.33,730.5 401.03,729 411.73,724 422.43,726.5 433.13,730.9 443.84,728 454.54,726 465.24,719.9 475.94,728.7 486.65,724.9 497.35,729.8" fill="none" stroke="#333" stroke-width="1.0" stroke-dasharray="1.8 1.2"/>
<polyline points="47.85,767.5 58.55,767.5 69.26,767.5 79.96,767.5 90.66,767.5 101.36,767.5 112.07,767.5 122.77,767.5 133.47,767.5 144.17,767.5 154.87,767.5 165.58,767.5 176.28,780.7 186.98,780.7 197.68,780.7 208.39,780.7 219.09,780.7 229.79,780.7 240.49,780.7 251.2,780.7 261.9,780.7 272.6,780.7 283.3,780.7 294,780.7 304.71,801.7 315.41,801.7 326.11,801.7 336.81,801.7 347.52,801.7 358.22,801.7 368.92,801.7 379.62,801.7 390.33,801.7 401.03,801.7 411.73,801.7 422.43,801.7 433.13,801.7 443.84,801.7 454.54,801.7 465.24,801.7 475.94,801.7 486.65,801.7 497.35,801.7" fill="none" stroke="#262626" stroke-width="1.2"/>
<line x1="165.55" y1="640.4" x2="166.1" y2="834" stroke="#111" stroke-width="1.8" stroke-dasharray="5.9 5.48"/>
<line x1="293.9" y1="639.9" x2="294.6" y2="834" stroke="#111" stroke-width="1.8" stroke-dasharray="5.9 5.48"/>
<rect x="51.3" y="659.2" width="22.6" height="10.23" fill="#fff"/>
<text x="53.3" y="667.1" font-family="Liberation Serif" font-weight="bold" stroke="#111" stroke-width="0.25" font-size="9.3" fill="#111">UCL</text>
<rect x="51.6" y="829.7" width="23.6" height="10.23" fill="#fff"/>
<text x="53.6" y="837.6" font-family="Liberation Serif" font-weight="bold" stroke="#111" stroke-width="0.25" font-size="9.3" fill="#111">LCL</text>
<polyline points="47.85,779.7 58.55,768.6 69.26,786.9 79.96,792.3 90.66,749.2 101.36,796.9 112.07,778.9 122.77,815.2 133.47,774.3 144.17,745.2 154.87,709.4 165.58,712.1 176.28,748.7 186.98,753.3 197.68,716.4 208.39,791.8 219.09,797.2 229.79,818.4 240.49,771.3 251.2,733.9 261.9,834.3 272.6,799.6 283.3,781 294,801.9 304.71,770.7 315.41,762.6 326.11,834.3 336.81,834.3 347.52,834.3 358.22,796.7 368.92,794.2 379.62,783.3 390.33,799.7 401.03,797.7 411.73,813.2 422.43,795 433.13,817.2 443.84,796.8 454.54,775.6 465.24,788.4 475.94,816 486.65,814.3 497.35,798.8" fill="none" stroke="#000" stroke-width="1.45" stroke-linejoin="miter"/>
<circle cx="47.85" cy="779.7" r="2.05" fill="#1f3273" stroke="#0b1545" stroke-width="0.7"/>
<circle cx="58.55" cy="768.6" r="2.05" fill="#1f3273" stroke="#0b1545" stroke-width="0.7"/>
<circle cx="69.26" cy="786.9" r="2.05" fill="#1f3273" stroke="#0b1545" stroke-width="0.7"/>
<circle cx="79.96" cy="792.3" r="2.05" fill="#1f3273" stroke="#0b1545" stroke-width="0.7"/>
<circle cx="90.66" cy="749.2" r="2.05" fill="#1f3273" stroke="#0b1545" stroke-width="0.7"/>
<circle cx="101.36" cy="796.9" r="2.05" fill="#1f3273" stroke="#0b1545" stroke-width="0.7"/>
<circle cx="112.07" cy="778.9" r="2.05" fill="#1f3273" stroke="#0b1545" stroke-width="0.7"/>
<circle cx="122.77" cy="815.2" r="2.05" fill="#1f3273" stroke="#0b1545" stroke-width="0.7"/>
<circle cx="133.47" cy="774.3" r="2.05" fill="#1f3273" stroke="#0b1545" stroke-width="0.7"/>
<circle cx="144.17" cy="745.2" r="2.05" fill="#1f3273" stroke="#0b1545" stroke-width="0.7"/>
<circle cx="154.87" cy="709.4" r="2.05" fill="#1f3273" stroke="#0b1545" stroke-width="0.7"/>
<circle cx="165.58" cy="712.1" r="2.05" fill="#1f3273" stroke="#0b1545" stroke-width="0.7"/>
<circle cx="176.28" cy="748.7" r="2.05" fill="#1f3273" stroke="#0b1545" stroke-width="0.7"/>
<circle cx="186.98" cy="753.3" r="2.05" fill="#1f3273" stroke="#0b1545" stroke-width="0.7"/>
<circle cx="197.68" cy="716.4" r="2.05" fill="#1f3273" stroke="#0b1545" stroke-width="0.7"/>
<circle cx="208.39" cy="791.8" r="2.05" fill="#1f3273" stroke="#0b1545" stroke-width="0.7"/>
<circle cx="219.09" cy="797.2" r="2.05" fill="#1f3273" stroke="#0b1545" stroke-width="0.7"/>
<circle cx="229.79" cy="818.4" r="2.05" fill="#1f3273" stroke="#0b1545" stroke-width="0.7"/>
<circle cx="240.49" cy="771.3" r="2.05" fill="#1f3273" stroke="#0b1545" stroke-width="0.7"/>
<circle cx="251.2" cy="733.9" r="2.05" fill="#1f3273" stroke="#0b1545" stroke-width="0.7"/>
<circle cx="261.9" cy="834.3" r="2.05" fill="#1f3273" stroke="#0b1545" stroke-width="0.7"/>
<circle cx="272.6" cy="799.6" r="2.05" fill="#1f3273" stroke="#0b1545" stroke-width="0.7"/>
<circle cx="283.3" cy="781" r="2.05" fill="#1f3273" stroke="#0b1545" stroke-width="0.7"/>
<circle cx="294" cy="801.9" r="2.05" fill="#1f3273" stroke="#0b1545" stroke-width="0.7"/>
<circle cx="304.71" cy="770.7" r="2.05" fill="#1f3273" stroke="#0b1545" stroke-width="0.7"/>
<circle cx="315.41" cy="762.6" r="2.05" fill="#1f3273" stroke="#0b1545" stroke-width="0.7"/>
<circle cx="326.11" cy="834.3" r="2.05" fill="#1f3273" stroke="#0b1545" stroke-width="0.7"/>
<circle cx="336.81" cy="834.3" r="2.05" fill="#1f3273" stroke="#0b1545" stroke-width="0.7"/>
<circle cx="347.52" cy="834.3" r="2.05" fill="#1f3273" stroke="#0b1545" stroke-width="0.7"/>
<circle cx="358.22" cy="796.7" r="2.05" fill="#1f3273" stroke="#0b1545" stroke-width="0.7"/>
<circle cx="368.92" cy="794.2" r="2.05" fill="#1f3273" stroke="#0b1545" stroke-width="0.7"/>
<circle cx="379.62" cy="783.3" r="2.05" fill="#1f3273" stroke="#0b1545" stroke-width="0.7"/>
<circle cx="390.33" cy="799.7" r="2.05" fill="#1f3273" stroke="#0b1545" stroke-width="0.7"/>
<circle cx="401.03" cy="797.7" r="2.05" fill="#1f3273" stroke="#0b1545" stroke-width="0.7"/>
<circle cx="411.73" cy="813.2" r="2.05" fill="#1f3273" stroke="#0b1545" stroke-width="0.7"/>
<circle cx="422.43" cy="795" r="2.05" fill="#1f3273" stroke="#0b1545" stroke-width="0.7"/>
<circle cx="433.13" cy="817.2" r="2.05" fill="#1f3273" stroke="#0b1545" stroke-width="0.7"/>
<circle cx="443.84" cy="796.8" r="2.05" fill="#1f3273" stroke="#0b1545" stroke-width="0.7"/>
<circle cx="454.54" cy="775.6" r="2.05" fill="#1f3273" stroke="#0b1545" stroke-width="0.7"/>
<circle cx="465.24" cy="788.4" r="2.05" fill="#1f3273" stroke="#0b1545" stroke-width="0.7"/>
<circle cx="475.94" cy="816" r="2.05" fill="#1f3273" stroke="#0b1545" stroke-width="0.7"/>
<circle cx="486.65" cy="814.3" r="2.05" fill="#1f3273" stroke="#0b1545" stroke-width="0.7"/>
<circle cx="497.35" cy="798.8" r="2.05" fill="#1f3273" stroke="#0b1545" stroke-width="0.7"/>
<text x="76.1" y="638.3" font-family="Liberation Serif" font-weight="bold" stroke="#111" stroke-width="0.25" font-size="9.3" fill="#111">Baseline</text>
<text x="205" y="638.8" font-family="Liberation Serif" font-weight="bold" stroke="#111" stroke-width="0.25" font-size="9.3" fill="#111">Study</text>
<text x="369.4" y="639" font-family="Liberation Serif" font-weight="bold" stroke="#111" stroke-width="0.25" font-size="9.3" fill="#111">Sustain</text>
<text x="98.5" y="752" font-family="Liberation Serif" font-weight="bold" stroke="#111" stroke-width="0.25" font-size="9.3" fill="#111">1.59</text>
<text x="212.8" y="761.9" font-family="Liberation Serif" font-weight="bold" stroke="#111" stroke-width="0.25" font-size="9.3" fill="#111">1.30</text>
<text x="398.8" y="784.6" font-family="Liberation Serif" font-weight="bold" stroke="#111" stroke-width="0.25" font-size="9.3" fill="#111">0.78</text>
</svg>
</body></html>
